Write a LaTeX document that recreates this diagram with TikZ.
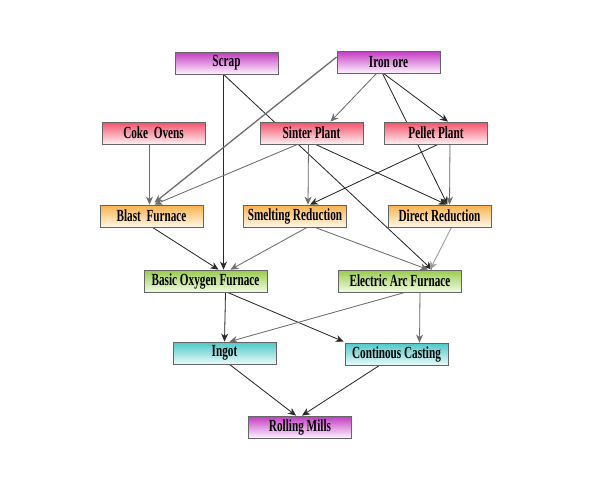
\documentclass[tikz,border=0pt]{standalone}
\usepackage{fontspec}
\newfontfamily\boxfont[FakeStretch=0.66]{Liberation Serif Bold}
\usetikzlibrary{arrows.meta,calc}
\pgfdeclarelayer{background}
\pgfdeclarelayer{canvas}
\pgfsetlayers{canvas,background,main}
\definecolor{magT}{HTML}{C23AC2}\definecolor{magB}{HTML}{FFF2FF}
\definecolor{redT}{HTML}{F2506A}\definecolor{redB}{HTML}{FFF0F2}
\definecolor{orgT}{HTML}{F8B24A}\definecolor{orgB}{HTML}{FFF8EA}
\definecolor{grnT}{HTML}{98CC4A}\definecolor{grnB}{HTML}{F2FAE4}
\definecolor{cyaT}{HTML}{4CC8C8}\definecolor{cyaB}{HTML}{EAFAFA}
\definecolor{edgeD}{HTML}{2A2A2A}\definecolor{edgeG}{HTML}{6E6E6E}\definecolor{edgeL}{HTML}{9A9A9A}
\tikzset{
  stage/.style={draw=black!60, line width=0.8pt, minimum width=103pt, minimum height=22pt,
    inner sep=0pt, font=\boxfont\fontsize{17}{17}\selectfont},
  wide/.style={minimum width=123pt},
  mag/.style={stage, top color=magT, bottom color=magB},
  red/.style={stage, top color=redT, bottom color=redB},
  org/.style={stage, top color=orgT, bottom color=orgB},
  grn/.style={stage, top color=grnT, bottom color=grnB},
  cya/.style={stage, top color=cyaT, bottom color=cyaB},
  flow/.style={-{Stealth[length=8pt,width=7pt,inset=2.5pt]}, line width=0.8pt},
  dk/.style={flow, draw=edgeD, fill=edgeD},
  gy/.style={flow, draw=edgeG, fill=edgeG},
  lg/.style={flow, draw=edgeL, fill=edgeL},
  thick gy/.style={gy, line width=1.3pt},
}
\begin{document}
\begin{tikzpicture}[x=1pt,y=-1pt]
\begin{pgfonlayer}{canvas}
\fill[white] (0,0) rectangle (594,491);
\end{pgfonlayer}
\useasboundingbox (0,0) rectangle (594,491);
\node[mag] (scrap) at (226.5,63) {Scrap};
\node[mag] (iron) at (388.5,62) {Iron ore};
\node[red] (coke) at (153.5,133) {Coke~~Ovens};
\node[red] (sinter) at (311.5,133) {Sinter Plant};
\node[red] (pellet) at (436,133) {Pellet Plant};
\node[org] (bf) at (151.5,216) {Blast~~Furnace};
\node[org] (sr) at (295,216) {Smelting Reduction};
\node[org] (dr) at (439.5,216) {Direct Reduction};
\node[grn,wide] (bof) at (205.5,281) {Basic Oxygen Furnace};
\node[grn,wide] (eaf) at (400,281) {Electric Arc Furnace};
\node[cya] (ingot) at (224.5,353) {Ingot};
\node[cya] (cc) at (396.5,354) {Continous Casting};
\node[mag] (rm) at (300,427) {Rolling Mills};
\begin{pgfonlayer}{background}
\draw[dk] ($(scrap.south)+(-3,0)$) -- ($(bof.north)+(18,0)$);
\draw[dk] ($(scrap.south)+(-3,0)$) -- ($(eaf.north)+(32,0)$);
\draw[thick gy] ($(iron.west)+(0,-5)$) -- ($(bf.north)+(3,-2)$);
\draw[gy] ($(iron.south)+(-12,0)$) -- ($(sinter.north)+(19,0)$);
\draw[dk] ($(iron.south)+(-5,0)$) -- ($(pellet.north)+(12,0)$);
\draw[dk] ($(iron.south)+(-6,0)$) -- ($(dr.north)+(8,0)$);
\draw[gy] ($(coke.south)+(-4,0)$) -- ($(bf.north)+(-2,0)$);
\draw[gy] ($(sinter.south)+(-14,0)$) -- ($(bf.north)+(3,0)$);
\draw[gy] ($(sinter.south)+(-3,0)$) -- ($(sr.north)+(13,0)$);
\draw[dk] ($(sinter.south)+(4,0)$) -- ($(dr.north)+(7,0)$);
\draw[dk] ($(pellet.south)+(2,0)$) -- ($(sr.north)+(15,0)$);
\draw[gy] ($(pellet.south)+(14,0)$) -- ($(dr.north)+(10,0)$);
\draw[dk] ($(bf.south)+(1,0)$) -- ($(bof.north)+(13,0)$);
\draw[gy] ($(sr.south)+(12,0)$) -- ($(bof.north)+(25,0)$);
\draw[gy] ($(sr.south)+(20,0)$) -- ($(eaf.north)+(28,0)$);
\draw[lg] ($(dr.south)+(12,0)$) -- ($(eaf.north)+(30,0)$);
\draw[dk] ($(bof.south)+(20,0)$) -- (ingot.north);
\draw[dk] ($(bof.south)+(22,0)$) -- ($(cc.north west)+(-1,-1)$);
\draw[gy] ($(eaf.south)+(5,0)$) -- ($(ingot.north)+(5,0)$);
\draw[gy] ($(eaf.south)+(20,0)$) -- ($(cc.north)+(23,0)$);
\draw[dk] ($(ingot.south)+(5,0)$) -- ($(rm.north)+(-4,0)$);
\draw[dk] ($(cc.south)+(-17,0)$) -- ($(rm.north)+(2,0)$);
\end{pgfonlayer}
\end{tikzpicture}
\end{document}
